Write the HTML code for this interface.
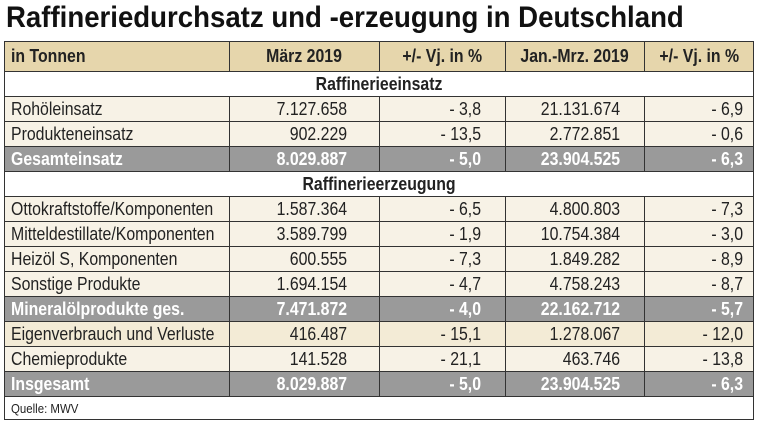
<!DOCTYPE html>
<html><head><meta charset="utf-8"><style>
body{margin:0;width:760px;height:431px;background:#fff;overflow:hidden;font-family:"Liberation Sans",sans-serif;}
h1{position:absolute;left:6px;top:1px;margin:0;font-size:30px;font-weight:bold;color:#111;white-space:nowrap;transform:scaleX(0.92);transform-origin:left top;}
table{position:absolute;left:4px;top:41px;width:749px;border-collapse:collapse;table-layout:fixed;font-size:18px;color:#222;}
td{border:1.5px solid #333;padding:0 6px;height:24px;background:#f7f2e6;white-space:nowrap;overflow:visible;}
td span{display:inline-block;transform:scaleX(0.88);transform-origin:left center;}
td.n{text-align:right;}
td.n span{transform-origin:right center;}
td.c{text-align:center;}
td.c span{transform-origin:center center;}
tr.h td{background:#e6d6ac;font-weight:bold;height:29px;}
tr.s td{background:#fff;text-align:center;font-weight:bold;height:24px;}
tr.s td span{transform-origin:center center;}
tr.g td{background:#9a9a9a;color:#fff;font-weight:bold;}
tr.y td{background:#f3ebd6;}
tr.f td{background:#fff;font-size:13px;height:22px;}
</style></head><body>
<h1>Raffineriedurchsatz und -erzeugung in Deutschland</h1>
<table>
<colgroup><col style="width:225px"><col style="width:150px"><col style="width:126px"><col style="width:139px"><col style="width:109px"></colgroup>
<tr class="h"><td><span>in Tonnen</span></td><td class="c"><span>März 2019</span></td><td class="c"><span>+/- Vj. in %</span></td><td class="c"><span>Jan.-Mrz. 2019</span></td><td class="c"><span>+/- Vj. in %</span></td></tr>
<tr class="s"><td colspan="5"><span>Raffinerieeinsatz</span></td></tr>
<tr><td><span>Rohöleinsatz</span></td><td class="n" style="padding-right:32px"><span>7.127.658</span></td><td class="n" style="padding-right:24px"><span>- 3,8</span></td><td class="n" style="padding-right:24px"><span>21.131.674</span></td><td class="n" style="padding-right:10px"><span>- 6,9</span></td></tr>
<tr><td><span>Produkteneinsatz</span></td><td class="n" style="padding-right:32px"><span>902.229</span></td><td class="n" style="padding-right:24px"><span>- 13,5</span></td><td class="n" style="padding-right:24px"><span>2.772.851</span></td><td class="n" style="padding-right:10px"><span>- 0,6</span></td></tr>
<tr class="g"><td><span>Gesamteinsatz</span></td><td class="n" style="padding-right:32px"><span>8.029.887</span></td><td class="n" style="padding-right:24px"><span>- 5,0</span></td><td class="n" style="padding-right:24px"><span>23.904.525</span></td><td class="n" style="padding-right:10px"><span>- 6,3</span></td></tr>
<tr class="s"><td colspan="5"><span>Raffinerieerzeugung</span></td></tr>
<tr><td><span>Ottokraftstoffe/Komponenten</span></td><td class="n" style="padding-right:32px"><span>1.587.364</span></td><td class="n" style="padding-right:24px"><span>- 6,5</span></td><td class="n" style="padding-right:24px"><span>4.800.803</span></td><td class="n" style="padding-right:10px"><span>- 7,3</span></td></tr>
<tr><td><span>Mitteldestillate/Komponenten</span></td><td class="n" style="padding-right:32px"><span>3.589.799</span></td><td class="n" style="padding-right:24px"><span>- 1,9</span></td><td class="n" style="padding-right:24px"><span>10.754.384</span></td><td class="n" style="padding-right:10px"><span>- 3,0</span></td></tr>
<tr><td><span>Heizöl S, Komponenten</span></td><td class="n" style="padding-right:32px"><span>600.555</span></td><td class="n" style="padding-right:24px"><span>- 7,3</span></td><td class="n" style="padding-right:24px"><span>1.849.282</span></td><td class="n" style="padding-right:10px"><span>- 8,9</span></td></tr>
<tr><td><span>Sonstige Produkte</span></td><td class="n" style="padding-right:32px"><span>1.694.154</span></td><td class="n" style="padding-right:24px"><span>- 4,7</span></td><td class="n" style="padding-right:24px"><span>4.758.243</span></td><td class="n" style="padding-right:10px"><span>- 8,7</span></td></tr>
<tr class="g"><td><span>Mineralölprodukte ges.</span></td><td class="n" style="padding-right:32px"><span>7.471.872</span></td><td class="n" style="padding-right:24px"><span>- 4,0</span></td><td class="n" style="padding-right:24px"><span>22.162.712</span></td><td class="n" style="padding-right:10px"><span>- 5,7</span></td></tr>
<tr class="y"><td><span>Eigenverbrauch und Verluste</span></td><td class="n" style="padding-right:32px"><span>416.487</span></td><td class="n" style="padding-right:24px"><span>- 15,1</span></td><td class="n" style="padding-right:24px"><span>1.278.067</span></td><td class="n" style="padding-right:10px"><span>- 12,0</span></td></tr>
<tr><td><span>Chemieprodukte</span></td><td class="n" style="padding-right:32px"><span>141.528</span></td><td class="n" style="padding-right:24px"><span>- 21,1</span></td><td class="n" style="padding-right:24px"><span>463.746</span></td><td class="n" style="padding-right:10px"><span>- 13,8</span></td></tr>
<tr class="g"><td><span>Insgesamt</span></td><td class="n" style="padding-right:32px"><span>8.029.887</span></td><td class="n" style="padding-right:24px"><span>- 5,0</span></td><td class="n" style="padding-right:24px"><span>23.904.525</span></td><td class="n" style="padding-right:10px"><span>- 6,3</span></td></tr>
<tr class="f"><td colspan="5"><span>Quelle: MWV</span></td></tr>
</table>
</body></html>
